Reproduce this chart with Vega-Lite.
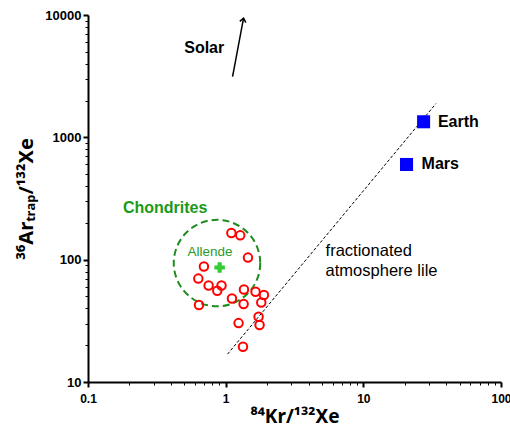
{
  "$schema": "https://vega.github.io/schema/vega-lite/v6.json",
  "autosize": {"type": "none"},
  "padding": {"left": 88, "top": 15, "right": 9, "bottom": 51},
  "width": 413,
  "height": 367,
  "background": "white",
  "config": {"view": {"stroke": null}},
  "datasets": {
    "samples": [
      {"x": 1.10, "y": 165}, {"x": 1.276, "y": 158}, {"x": 1.452, "y": 104},
      {"x": 0.695, "y": 88}, {"x": 0.633, "y": 70}, {"x": 0.752, "y": 61.5},
      {"x": 0.933, "y": 61.5}, {"x": 0.869, "y": 55.7}, {"x": 0.640, "y": 42.6},
      {"x": 1.111, "y": 48.2}, {"x": 1.358, "y": 57.1}, {"x": 1.35, "y": 43.4},
      {"x": 1.648, "y": 54.7}, {"x": 1.897, "y": 51.4}, {"x": 1.814, "y": 44.7},
      {"x": 1.734, "y": 34.2}, {"x": 1.763, "y": 29.2}, {"x": 1.241, "y": 30.3},
      {"x": 1.336, "y": 19.4}
    ],
    "fracline": [{"x": 1.032, "y": 16.9}, {"x": 33.7, "y": 1888}],
    "chondrites": [{"x": 0.865, "y": 93.8}],
    "allende": [{"x": 0.904, "y": 86.3}],
    "planets": [{"x": 27.4, "y": 1340}, {"x": 20.6, "y": 600}],
    "solarline": [{"x": 1.122, "y": 3140}, {"x": 1.349, "y": 9420}],
    "solartip": [{"x": 1.349, "y": 9420}],
    "boldlabels": [
      {"x": 0.5, "y": 5355, "label": "Solar"},
      {"x": 34.8, "y": 1339, "label": "Earth"},
      {"x": 26.5, "y": 600, "label": "Mars"}
    ],
    "greenbold": [{"x": 0.1795, "y": 264, "label": "Chondrites"}],
    "greenplain": [{"x": 0.529, "y": 115.3, "label": "Allende"}],
    "plainlabels": [
      {"x": 5.32, "y": 118.2, "label": "fractionated"},
      {"x": 5.32, "y": 80.7, "label": "atmosphere lile"}
    ]
  },
  "encoding": {
    "x": {
      "field": "x", "type": "quantitative",
      "scale": {"type": "log", "domain": [0.1, 100], "nice": false},
      "axis": {
        "title": "⁸⁴Kr/¹³²Xe",
        "values": [0.1,0.2,0.3,0.4,0.5,0.6,0.7,0.8,0.9,1,2,3,4,5,6,7,8,9,10,20,30,40,50,60,70,80,90,100],
        "labelExpr": "abs(log(datum.value)/LN10 - round(log(datum.value)/LN10)) < 0.000001 ? format(datum.value, '~g') : ''",
        "labelFont": "Liberation Sans", "labelFontWeight": "bold", "labelFontSize": 12, "labelColor": "black",
        "labelPadding": 6, "labelOverlap": false, "labelFlush": false,
        "tickColor": "black",
        "tickSize": {"condition": {"test": "abs(log(datum.value)/LN10 - round(log(datum.value)/LN10)) < 0.000001", "value": 5}, "value": 3},
        "tickWidth": {"condition": {"test": "abs(log(datum.value)/LN10 - round(log(datum.value)/LN10)) < 0.000001", "value": 2}, "value": 1},
        "domainColor": "black", "domainWidth": 2,
        "titleFont": "Noto Sans", "titleFontSize": 19, "titleFontWeight": "bold", "titleColor": "black", "titlePadding": 3,
        "grid": false
      }
    },
    "y": {
      "field": "y", "type": "quantitative",
      "scale": {"type": "log", "domain": [10, 10000], "nice": false},
      "axis": {
        "title": "³⁶Arₜᵣₐₚ/¹³²Xe",
        "values": [10,20,30,40,50,60,70,80,90,100,200,300,400,500,600,700,800,900,1000,2000,3000,4000,5000,6000,7000,8000,9000,10000],
        "labelExpr": "abs(log(datum.value)/LN10 - round(log(datum.value)/LN10)) < 0.000001 ? format(datum.value, '~g') : ''",
        "labelFont": "Liberation Sans", "labelFontWeight": "bold", "labelFontSize": 13, "labelColor": "black",
        "labelPadding": 2, "labelOverlap": false, "labelFlush": false,
        "tickColor": "black",
        "tickSize": {"condition": {"test": "abs(log(datum.value)/LN10 - round(log(datum.value)/LN10)) < 0.000001", "value": 5}, "value": 3},
        "tickWidth": {"condition": {"test": "abs(log(datum.value)/LN10 - round(log(datum.value)/LN10)) < 0.000001", "value": 2}, "value": 1},
        "domainColor": "black", "domainWidth": 2,
        "titleFont": "Noto Sans", "titleFontSize": 20, "titleFontWeight": "bold", "titleColor": "black", "titlePadding": 8,
        "grid": false
      }
    }
  },
  "layer": [
    {
      "data": {"name": "fracline"},
      "mark": {"type": "line", "color": "black", "strokeWidth": 1, "strokeDash": [3, 2]}
    },
    {
      "data": {"name": "chondrites"},
      "mark": {"type": "point", "shape": "circle", "size": 7480, "filled": false, "stroke": "#1e8c1e", "strokeWidth": 2, "strokeDash": [7, 4], "opacity": 1}
    },
    {
      "data": {"name": "samples"},
      "mark": {"type": "point", "shape": "circle", "size": 72, "filled": false, "stroke": "#ff0000", "strokeWidth": 2, "opacity": 1}
    },
    {
      "data": {"name": "allende"},
      "mark": {"type": "point", "shape": "cross", "size": 110, "filled": true, "color": "#33cc33", "opacity": 1}
    },
    {
      "data": {"name": "planets"},
      "mark": {"type": "point", "shape": "square", "size": 170, "filled": true, "color": "#0000ff", "opacity": 1}
    },
    {
      "data": {"name": "solarline"},
      "mark": {"type": "line", "color": "black", "strokeWidth": 1.5}
    },
    {
      "data": {"name": "solartip"},
      "mark": {"type": "point", "shape": "M -0.8 1 L 0 0 L 0.8 1", "size": 60, "filled": false, "stroke": "black", "strokeWidth": 1.5, "angle": 11, "opacity": 1}
    },
    {
      "data": {"name": "boldlabels"},
      "mark": {"type": "text", "align": "left", "baseline": "middle", "font": "Liberation Sans", "fontSize": 16, "fontWeight": "bold", "color": "black"},
      "encoding": {"text": {"field": "label"}}
    },
    {
      "data": {"name": "greenbold"},
      "mark": {"type": "text", "align": "left", "baseline": "middle", "font": "Liberation Sans", "fontSize": 16, "fontWeight": "bold", "color": "#1a9a1a"},
      "encoding": {"text": {"field": "label"}}
    },
    {
      "data": {"name": "greenplain"},
      "mark": {"type": "text", "align": "left", "baseline": "middle", "font": "Liberation Sans", "fontSize": 13.5, "color": "#2a9a2a"},
      "encoding": {"text": {"field": "label"}}
    },
    {
      "data": {"name": "plainlabels"},
      "mark": {"type": "text", "align": "left", "baseline": "middle", "font": "Liberation Sans", "fontSize": 16.5, "color": "black"},
      "encoding": {"text": {"field": "label"}}
    }
  ]
}
